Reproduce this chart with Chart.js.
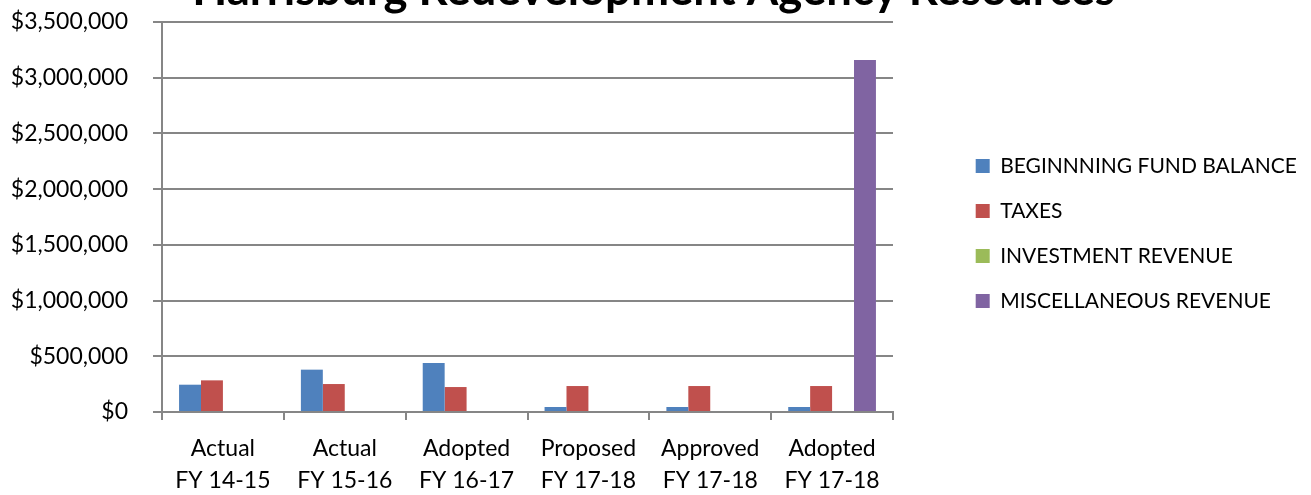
<!DOCTYPE html>
<html>
<head>
<meta charset="utf-8">
<script src="https://cdn.jsdelivr.net/npm/chart.js@4.4.0/dist/chart.umd.min.js"></script>
<style>
  html, body { margin: 0; padding: 0; background: #fff; overflow: hidden; width: 1311px; height: 495px; }
  #wrap { position: absolute; left: 0; top: -34px; width: 1311px; height: 529px; }
</style>
</head>
<body>
<div id="wrap"><canvas id="c"></canvas></div>
<script>
const titleText = "Harrisburg Redevelopment Agency Resources";
const categories = [["Actual", "FY 14-15"], ["Actual", "FY 15-16"], ["Adopted", "FY 16-17"], ["Proposed", "FY 17-18"], ["Approved", "FY 17-18"], ["Adopted", "FY 17-18"]];
const seriesNames = ["BEGINNNING FUND BALANCE", "TAXES", "INVESTMENT REVENUE", "MISCELLANEOUS REVENUE"];
const beginningFundBalance = [245000, 380000, 440000, 45000, 45000, 45000];
const taxes = [284000, 251000, 224000, 233000, 233000, 233000];
const investmentRevenue = [0, 0, 0, 0, 0, 0];
const miscellaneousRevenue = [0, 0, 0, 0, 0, 3160000];
const yTicks = [0, 500000, 1000000, 1500000, 2000000, 2500000, 3000000, 3500000];

const colors = ["#4F81BD", "#C0504D", "#9BBB59", "#8064A2"];
const seriesData = [beginningFundBalance, taxes, investmentRevenue, miscellaneousRevenue];
const gridColor = "#868686";
const FONT = "Lato";
const LEG_SIZE = 21, LEG_BOX = 14, LEG_PAD = 24, RIGHT_PAD = 4, PLOT_RIGHT = 893, W = 1311;

// width of the widest legend label, to reserve the gap between plot and legend
const mctx = document.createElement("canvas").getContext("2d");
mctx.font = LEG_SIZE + "px " + FONT;
const legTextW = Math.max(...seriesNames.map(n => mctx.measureText(n).width));
const legendW = LEG_PAD + LEG_BOX + LEG_SIZE / 2 + legTextW + 10;
const gapW = Math.max(0, W - RIGHT_PAD - legendW - PLOT_RIGHT);

new Chart(document.getElementById("c"), {
  type: "bar",
  data: {
    labels: categories,
    datasets: seriesNames.map((n, i) => ({
      label: n,
      data: seriesData[i],
      backgroundColor: colors[i],
      borderWidth: 0,
      categoryPercentage: 0.72,
      barPercentage: 1.0,
      yAxisID: "y"
    }))
  },
  options: {
    responsive: true,
    maintainAspectRatio: false,
    animation: false,
    layout: { padding: { left: 0, right: RIGHT_PAD, top: 0, bottom: 0 } },
    plugins: {
      tooltip: { enabled: false },
      title: {
        display: true,
        text: titleText,
        color: "#000",
        font: { family: FONT, size: 45.5, weight: "bold", lineHeight: 48 / 45.5 },
        padding: { top: 0, bottom: 8 }
      },
      legend: {
        position: "right",
        align: "center",
        maxWidth: 500,
        title: { display: true, text: "", padding: 0, font: { family: FONT, size: 6, lineHeight: 1 } },
        labels: {
          color: "#000",
          font: { family: FONT, size: LEG_SIZE },
          boxWidth: LEG_BOX,
          boxHeight: LEG_BOX,
          padding: LEG_PAD
        }
      }
    },
    scales: {
      x: {
        type: "category",
        grid: { offset: true, drawOnChartArea: false, drawTicks: true, tickLength: 8, color: gridColor, lineWidth: 2 },
        border: { display: true, color: gridColor, width: 2 },
        ticks: { color: "#000", font: { family: FONT, size: 23, lineHeight: 1.4 }, padding: 12, maxRotation: 0, autoSkip: false },
        afterFit: s => { s.height = 83; }
      },
      y: {
        type: "linear",
        position: "left",
        min: 0,
        max: 3500000,
        afterBuildTicks: s => { s.ticks = yTicks.map(v => ({ value: v })); },
        grid: { color: gridColor, lineWidth: 2, tickLength: 9, drawTicks: true },
        border: { display: true, color: gridColor, width: 2 },
        ticks: {
          color: "#000",
          font: { family: FONT, size: 23 },
          padding: 25,
          callback: v => "$" + Number(v).toLocaleString("en-US")
        },
        afterFit: s => { s.width = 162; }
      },
      gap: {
        type: "linear",
        position: "right",
        display: true,
        grid: { display: false },
        border: { display: false },
        ticks: { display: false },
        afterFit: s => { s.width = gapW; }
      }
    }
  }
});
</script>
</body>
</html>
